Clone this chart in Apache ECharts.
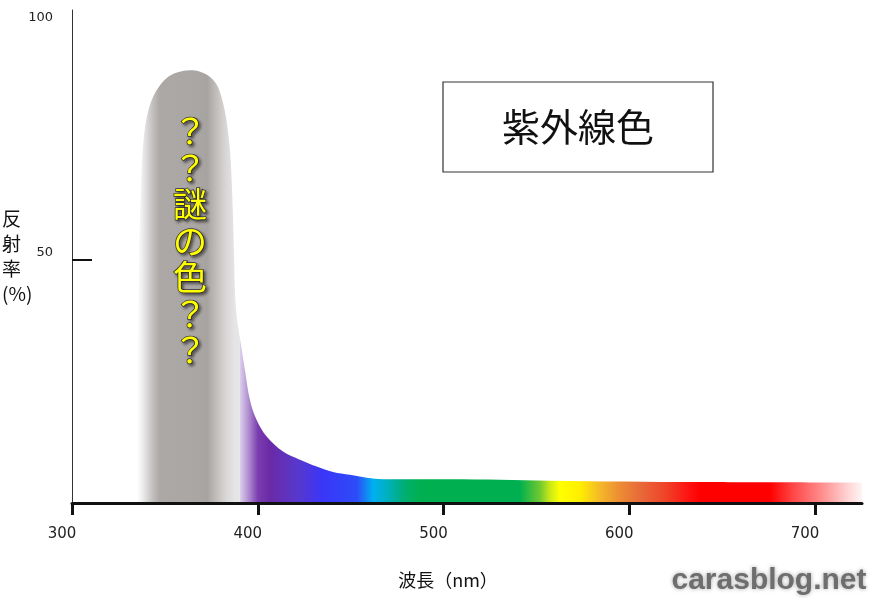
<!DOCTYPE html>
<html>
<head>
<meta charset="utf-8">
<script src="https://cdn.jsdelivr.net/npm/echarts@6/dist/echarts.min.js"></script>
<style>
  html, body { margin: 0; padding: 0; background: #fff; }
  #chart { width: 879px; height: 600px; }
</style>
</head>
<body>
<div id="chart"></div>
<script>
// tick labels
const xTicks = [300, 400, 500, 600, 700];
const yLabels = [50, 100];
const yTicks = [50];

// gray "mystery" hump (wavelength nm, reflectance %)
const humpWave = [335.0, 335.3, 336.0, 336.6, 337.7, 339.0, 340.9, 343.5, 347.4, 352.0, 357.0, 363.5, 369.0, 374.0, 378.1, 380.5, 382.4, 384.0, 385.1, 386.0, 386.7, 387.3, 387.8, 388.8, 390.4];
const humpRefl = [0, 30, 50, 58.6, 70.5, 76.5, 80.5, 83.5, 86.0, 87.8, 88.7, 89.1, 88.8, 87.8, 86.0, 83.5, 80.5, 76.5, 72.3, 66.0, 58.6, 50.0, 43.0, 38.0, 34.0];

// visible spectrum part
const specWave = [390.4, 393.1, 395.8, 399.4, 404.8, 413.6, 422.7, 431.7, 440.5, 449.6, 458.7, 467.4, 503.5, 557.3, 638.0, 725.3];
const specRefl = [34.0, 27.4, 21.2, 17.1, 13.7, 10.6, 8.9, 7.5, 6.4, 5.8, 5.2, 4.9, 4.9, 4.6, 4.3, 4.2];

const chart = echarts.init(document.getElementById('chart'));

const grayFill = new echarts.graphic.LinearGradient(0, 0, 1, 0, [
  { offset: 0.00, color: '#ffffff' },
  { offset: 0.05, color: '#eeeeee' },
  { offset: 0.15, color: '#c4c0bf' },
  { offset: 0.22, color: '#aca8a6' },
  { offset: 0.60, color: '#aaa6a4' },
  { offset: 0.68, color: '#a7a3a1' },
  { offset: 0.78, color: '#c4c0be' },
  { offset: 0.87, color: '#dad8d7' },
  { offset: 0.95, color: '#e5e5e5' },
  { offset: 1.00, color: '#e6e6e6' }
]);

const specFill = new echarts.graphic.LinearGradient(0, 0, 1, 0, [
  { offset: 0.000, color: '#ddd0ec' },
  { offset: 0.016, color: '#a884cc' },
  { offset: 0.029, color: '#7a3cb0' },
  { offset: 0.048, color: '#6a2aa6' },
  { offset: 0.092, color: '#5838cc' },
  { offset: 0.133, color: '#3a36f8' },
  { offset: 0.188, color: '#2d4cf8' },
  { offset: 0.214, color: '#00b0f0' },
  { offset: 0.233, color: '#00b0c8' },
  { offset: 0.265, color: '#00ae70' },
  { offset: 0.289, color: '#00b050' },
  { offset: 0.450, color: '#00b050' },
  { offset: 0.482, color: '#70c830' },
  { offset: 0.498, color: '#c8e818' },
  { offset: 0.514, color: '#ffff00' },
  { offset: 0.547, color: '#ffee00' },
  { offset: 0.579, color: '#f4b828' },
  { offset: 0.611, color: '#ec8c34' },
  { offset: 0.643, color: '#e86a3a' },
  { offset: 0.683, color: '#ef4428' },
  { offset: 0.723, color: '#ff1010' },
  { offset: 0.740, color: '#ff0000' },
  { offset: 0.852, color: '#ff0000' },
  { offset: 0.889, color: '#ff4646' },
  { offset: 0.937, color: '#ff9090' },
  { offset: 0.981, color: '#ffdada' },
  { offset: 1.000, color: '#fff4f4' }
]);

chart.setOption({
  animation: false,
  backgroundColor: '#fff',
  grid: { left: 72, right: 17, top: 10, bottom: 97, outerBoundsMode: 'none', containLabel: false },
  xAxis: {
    type: 'value',
    min: 300,
    max: 725.3,
    interval: 100,
    z: 10,
    name: '波長（nm）',
    nameLocation: 'middle',
    nameGap: 68,
    nameMoveOverlap: false,
    nameTextStyle: {
      fontSize: 18, color: '#111', fontFamily: 'Noto Sans CJK JP',
      padding: [0, 38, 0, 0]
    },
    axisLine: { lineStyle: { color: '#111', width: 3 } },
    axisTick: { customValues: xTicks, length: 12, lineStyle: { color: '#111', width: 3 } },
    axisLabel: {
      customValues: xTicks, margin: 24, fontSize: 15, color: '#222',
      fontFamily: 'DejaVu Sans', padding: [0, 20, 0, 0]
    },
    splitLine: { show: false }
  },
  yAxis: {
    type: 'value',
    min: 0,
    max: 101.5,
    z: 10,
    name: '反\n射\n率\n(%)',
    nameLocation: 'middle',
    nameRotate: 0,
    nameGap: 70,
    nameMoveOverlap: false,
    nameTextStyle: {
      fontSize: 19, lineHeight: 25, color: '#111', align: 'left',
      fontFamily: 'Noto Sans CJK JP'
    },
    axisLine: { show: true, lineStyle: { color: '#333', width: 1 } },
    axisTick: { show: true, inside: true, customValues: yTicks, length: 20, lineStyle: { color: '#111', width: 2 } },
    axisLabel: {
      customValues: yLabels, margin: 19, fontSize: 13, color: '#222', fontFamily: 'DejaVu Sans',
      formatter: v => (v === 50 ? '{s|50}' : String(v)),
      rich: { s: { fontSize: 13, color: '#222', fontFamily: 'DejaVu Sans', padding: [0, 0, 16, 0] } }
    },
    splitLine: { show: false }
  },
  series: [
    {
      type: 'line',
      data: humpWave.map((w, i) => [w, humpRefl[i]]),
      symbol: 'none',
      smooth: 0.35,
      lineStyle: { width: 0 },
      areaStyle: { color: grayFill, opacity: 1 },
      silent: true,
      z: 2
    },
    {
      type: 'line',
      data: specWave.map((w, i) => [w, specRefl[i]]),
      symbol: 'none',
      smooth: 0.35,
      lineStyle: { width: 0 },
      areaStyle: { color: specFill, opacity: 1 },
      silent: true,
      z: 2
    }
  ],
  graphic: [
    {
      type: 'rect',
      shape: { x: 443, y: 82, width: 270, height: 90 },
      style: { fill: '#fff', stroke: '#333', lineWidth: 1.2 },
      z: 10
    },
    {
      type: 'text',
      x: 578, y: 127,
      style: {
        text: '紫外線色', fontSize: 38, fill: '#111',
        fontFamily: 'Noto Sans CJK JP', align: 'center', verticalAlign: 'middle'
      },
      z: 11
    },
    {
      type: 'text',
      x: 190, y: 241,
      style: {
        text: '？\n？\n謎\nの\n色\n？\n？', fontSize: 34, lineHeight: 36.5,
        fill: '#ffff00', stroke: '#333', lineWidth: 1.5,
        fontFamily: 'Noto Sans CJK JP',
        align: 'center', verticalAlign: 'middle',
        textShadowColor: 'rgba(0,0,0,0.45)', textShadowBlur: 3,
        textShadowOffsetX: 2, textShadowOffsetY: 2
      },
      z: 11
    },
    {
      type: 'text',
      x: 769, y: 581,
      style: {
        text: 'carasblog.net', fontSize: 30, fontWeight: 'bold', fill: '#6e6e6e',
        fontFamily: 'Liberation Sans', align: 'center', verticalAlign: 'middle',
        textShadowColor: 'rgba(0,0,0,0.35)', textShadowBlur: 4
      },
      z: 11
    }
  ]
});
</script>
</body>
</html>
